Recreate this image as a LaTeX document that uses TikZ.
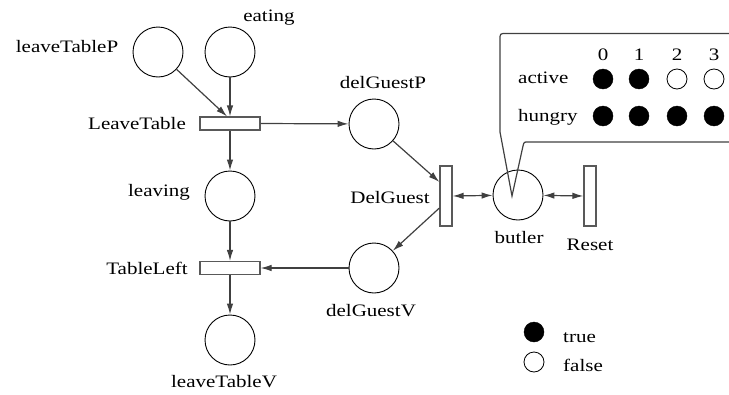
\documentclass[tikz,border=0pt]{standalone}
\usepackage{fontspec}
\setmainfont{Liberation Serif}[FakeStretch=1.2]
\usetikzlibrary{arrows.meta}
\begin{document}
\begin{tikzpicture}[x=1pt,y=-1pt,
  every node/.style={font=\fontsize{17.5}{20}\selectfont},
  place/.style={circle,draw=black,line width=0.9pt,minimum size=50pt,inner sep=0pt},
  htrans/.style={rectangle,draw=black!65,line width=1.2pt,minimum width=60pt,minimum height=13pt,inner sep=0pt},
  vtrans/.style={rectangle,draw=black!65,line width=1.2pt,minimum width=12pt,minimum height=60pt,inner sep=0pt},
  lbl/.style={inner sep=0pt,anchor=base},
  lblw/.style={inner sep=0pt,anchor=base west},
  flow/.style={draw=black!75,line width=1.2pt,-{Latex[length=11pt,width=6.5pt]}},
  both/.style={draw=black!75,line width=1.2pt,{Latex[length=11pt,width=6.5pt]}-{Latex[length=11pt,width=6.5pt]}},
  truedot/.style={circle,fill=black,draw=black,minimum size=20pt,inner sep=0pt},
  falsedot/.style={circle,draw=black,line width=0.8pt,minimum size=20pt,inner sep=0pt},
  callout/.style={draw=black!75,line width=1.2pt}
]
\useasboundingbox (0,0) rectangle (729,394);

% places
\node[place] (ltp) at (158,52) {};
\node[place] (eat) at (230,52) {};
\node[place] (lea) at (230,196) {};
\node[place] (ltv) at (230,340) {};
\node[place] (dgp) at (374,124) {};
\node[place] (dgv) at (374,268) {};
\node[place] (but) at (518,195) {};

% transitions
\node[htrans] (lt) at (230,123.5) {};
\node[htrans] (tl) at (230,268) {};
\node[vtrans] (dg) at (446,196) {};
\node[vtrans] (rs) at (590,196) {};

% labels
\node[lbl] (lltp) at (67,52) {leaveTableP};
\node[lbl] (leat) at (269,21) {eating};
\node[lbl] (llt) at (137,129) {LeaveTable};
\node[lbl] (llea) at (159,196) {leaving};
\node[lbl] (ltl) at (147,274) {TableLeft};
\node[lbl] (lltv) at (224,387) {leaveTableV};
\node[lbl] (ldgp) at (383,88) {delGuestP};
\node[lbl] (ldg) at (390,203) {DelGuest};
\node[lbl] (lbut) at (519,243) {butler};
\node[lbl] (lrs) at (590,250) {Reset};
\node[lbl] (ldgv) at (371,316) {delGuestV};

% arcs
\draw[flow] (ltp) -- ([xshift=-3pt]lt.north);
\draw[flow] (eat) -- (lt.north);
\draw[flow] (lt) -- (lea);
\draw[flow] (lea) -- (tl.north);
\draw[flow] (tl) -- (ltv);
\draw[flow] (lt.east) -- (dgp);
\draw[flow] (dgv) -- (tl.east);
\draw[flow] (dgp) -- ([yshift=14pt]dg.west);
\draw[flow] ([yshift=-12pt]dg.west) -- (dgv);
\draw[both] (dg.east) -- (but);
\draw[both] (but) -- (rs.west);

% callout
\coordinate (tip) at (512,196);
\draw[callout] (740,33.5) -- (506,33.5) .. controls (500,33.5) .. (500,40) -- (500,132) -- (tip) -- (523,146) .. controls (524,142) .. (528,142) -- (740,142);

\node[lbl] (c0) at (603,60) {0};
\node[lbl] (c1) at (639,60) {1};
\node[lbl] (c2) at (677,60) {2};
\node[lbl] (c3) at (714,60) {3};
\node[lblw] (lact) at (518,83) {active};
\node[lblw] (lhun) at (518,121) {hungry};
\node[truedot] (a0) at (603,79) {};
\node[truedot] (a1) at (639,79) {};
\node[falsedot] (a2) at (677,79) {};
\node[falsedot] (a3) at (714,79) {};
\node[truedot] (h0) at (603,116) {};
\node[truedot] (h1) at (639,116) {};
\node[truedot] (h2) at (677,116) {};
\node[truedot] (h3) at (714,116) {};

% legend
\node[truedot] (kt) at (534,332) {};
\node[falsedot] (kf) at (534,362) {};
\node[lblw] (lkt) at (563,342) {true};
\node[lblw] (lkf) at (563,371) {false};
\end{tikzpicture}
\end{document}
